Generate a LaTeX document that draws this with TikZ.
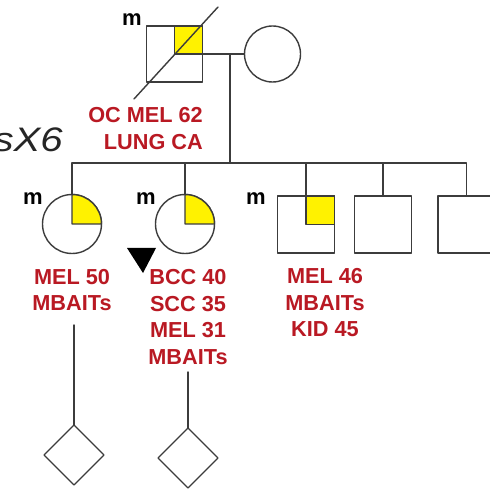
\documentclass[tikz,border=0pt]{standalone}
\usepackage{fontspec}
\setmainfont{Liberation Sans}
\usetikzlibrary{calc,shapes.geometric}
\definecolor{nhan}{RGB}{185,25,35}
\definecolor{net}{RGB}{60,60,60}

\begin{document}
\begin{tikzpicture}[x=1pt, y=1pt, line cap=round, line join=round,
  duong/.style={draw=net, line width=1.4pt},
  nam/.style={duong, fill=white, minimum size=56pt, inner sep=0pt, outer sep=0pt},
  nu/.style={circle, duong, fill=white, minimum size=59pt, inner sep=0pt, outer sep=0pt},
  chua/.style={diamond, duong, fill=white, minimum size=60pt, inner sep=0pt, outer sep=0pt},
  benh/.style={text=nhan, font=\bfseries\fontsize{21.7}{26.5}\selectfont, align=center, inner sep=0pt},
  mang/.style={font=\bfseries\fontsize{22}{22}\selectfont, inner sep=0pt},
  vang/.style={duong, fill=yellow}]
  \useasboundingbox (0,0) rectangle (490,-489);

  % Thế hệ I
  \node[nam] (fa) at (174.5,-54) {};
  \node[nu, minimum size=56pt] (mo) at (272.5,-54) {};
  \coordinate (J) at (230,-54);
  \coordinate (S) at (230,-163);
  \draw[duong] (fa.east) -- (mo.west);
  \draw[duong] (J) -- (S);
  \filldraw[vang] (fa.center) rectangle (fa.north east);
  \draw[duong] ($(fa.center)+(-40.5,-45)$) -- ($(fa.center)+(43.5,47)$);

  % Thế hệ II
  \node[nu] (da1) at (72,-224) {};
  \node[nu] (da2) at (185,-224) {};
  \node[nam, minimum size=57pt] (so1) at (306,-224.5) {};
  \node[nam, minimum size=57pt] (so2) at (383,-224.5) {};
  \node[nam, minimum size=57pt] (so3) at (466.5,-224.5) {};
  \draw[duong] (da1.north) |- (S) -| (so3.north);
  \foreach \c in {da2,so1,so2} \draw[duong] (\c.north) -- (\c.north |- S);

  % Góc tô vàng
  \filldraw[vang] (da1.center) -- (da1.north) arc[start angle=90, end angle=0, radius=29.5pt] -- cycle;
  \filldraw[vang] (da2.center) -- (da2.north) arc[start angle=90, end angle=0, radius=29.5pt] -- cycle;
  \filldraw[vang] (so1.center) rectangle (so1.north east);

  % Mũi tên người khám
  \fill[black] (127,-248) -- (156,-248) -- (143,-273) -- cycle;

  % Thế hệ III
  \node[chua] (gc1) at (74,-455) {};
  \node[chua] (gc2) at (188,-458) {};
  \draw[duong] (gc1.north) -- (gc1.north |- 0,-325);
  \draw[duong] (gc2.north) -- (gc2.north |- 0,-372);

  % Nhãn
  \node[benh, align=right, anchor=east] (fatxt) at (203,-128.5) {OC MEL 62\\LUNG CA};
  \node[benh] (da1txt) at (72,-290) {MEL 50\\MBAITs};
  \node[benh] (da2txt) at (188,-317) {BCC 40\\SCC 35\\MEL 31\\MBAITs};
  \node[benh] (so1txt) at (325,-303) {MEL 46\\MBAITs\\KID 45};
  \node[mang] (mfa) at (132,-20) {m};
  \node[mang] (mda1) at (33,-199) {m};
  \node[mang] (mda2) at (146,-199) {m};
  \node[mang] (mso1) at (256,-199) {m};
  \node[font=\itshape\fontsize{34}{34}\selectfont, text=black!85, inner sep=0pt, anchor=east, xscale=1.18] (ten) at (63,-140) {sX6};
\end{tikzpicture}
\end{document}
